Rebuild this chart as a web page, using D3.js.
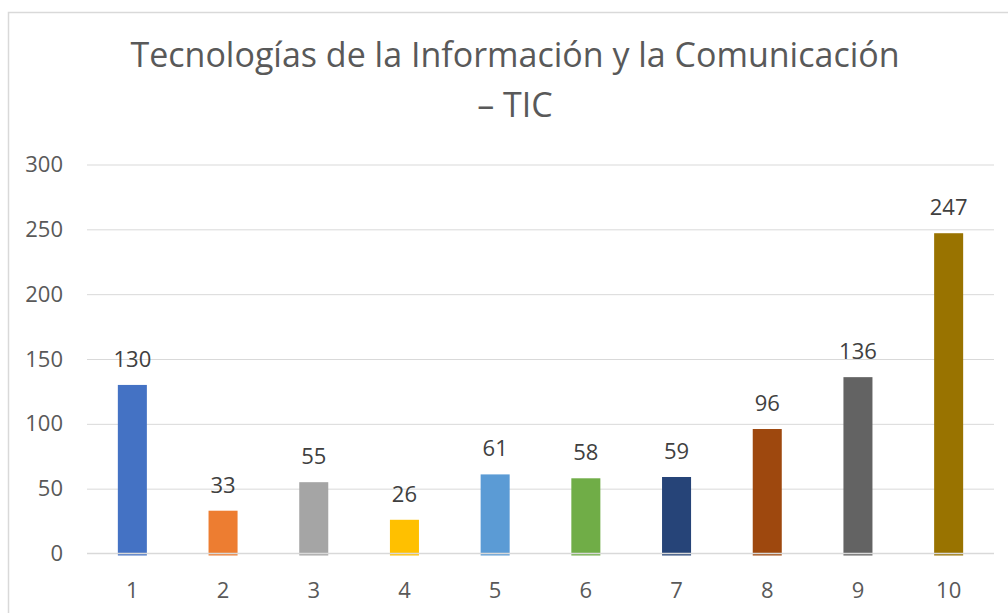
<!DOCTYPE html>
<html>
<head>
<meta charset="utf-8">
<script src="https://cdn.jsdelivr.net/npm/d3@7"></script>
<style>
  html, body { margin: 0; padding: 0; background: #fff; }
  svg { display: block; font-family: "Open Sans", sans-serif; }
</style>
</head>
<body>
<svg id="chart" width="1008" height="613"></svg>
<script>
const categories = ["1","2","3","4","5","6","7","8","9","10"];
const values = [130, 33, 55, 26, 61, 58, 59, 96, 136, 247];
const colors = ["#4472C4","#ED7D31","#A5A5A5","#FFC000","#5B9BD5","#70AD47","#264478","#9E480E","#636363","#997300"];
const yTicks = [0, 50, 100, 150, 200, 250, 300];
const titleLines = ["Tecnologías de la Información y la Comunicación", "– TIC"];

const svg = d3.select("#chart");

// chart frame
svg.append("rect")
  .attr("x", 8.5).attr("y", 12.5)
  .attr("width", 1100).attr("height", 700)
  .attr("fill", "#fff").attr("stroke", "#d9d9d9").attr("stroke-width", 1.5);

const x = d3.scaleBand().domain(categories).range([87, 994]).paddingInner(0.68).paddingOuter(0.34);
const y = d3.scaleLinear().domain([0, 300]).range([553.5, 164.5]);

// title
svg.append("g").selectAll("text").data(titleLines).join("text")
  .attr("x", 515).attr("y", (d, i) => i === 0 ? 67 : 117)
  .attr("text-anchor", "middle")
  .attr("fill", "#595959")
  .attr("font-size", 34)
  .text(d => d);

// gridlines (non-zero)
const grid = d3.axisLeft(y).tickValues(yTicks.filter(t => t !== 0)).tickSize(-(994 - 87)).tickFormat("");
svg.append("g").attr("transform", "translate(87,0)").call(grid)
  .call(g => g.select(".domain").remove())
  .call(g => g.selectAll("line").attr("stroke", "#d9d9d9").attr("stroke-width", 1));

// y labels
const yAxis = d3.axisLeft(y).tickValues(yTicks).tickSize(0).tickPadding(0);
svg.append("g").attr("transform", "translate(63,0)").call(yAxis)
  .call(g => g.select(".domain").remove())
  .call(g => g.selectAll("text").attr("fill", "#595959").attr("font-size", 22)
    .attr("font-family", "Open Sans, sans-serif"));

// bars
svg.append("g").selectAll("rect").data(values).join("rect")
  .attr("x", (d, i) => x(categories[i]))
  .attr("width", x.bandwidth())
  .attr("y", d => y(d))
  .attr("height", d => y(0) - y(d) + 2)
  .attr("fill", (d, i) => colors[i]);

// baseline
svg.append("line")
  .attr("x1", 87).attr("x2", 994).attr("y1", y(0)).attr("y2", y(0))
  .attr("stroke", "#d9d9d9").attr("stroke-width", 1.5);

// x labels
const xAxis = d3.axisBottom(x).tickSize(0).tickPadding(0);
svg.append("g").attr("transform", "translate(0,582)").call(xAxis)
  .call(g => g.select(".domain").remove())
  .call(g => g.selectAll("text").attr("fill", "#595959").attr("font-size", 22)
    .attr("font-family", "Open Sans, sans-serif").attr("dy", "0.71em"));

// data labels
svg.append("g").selectAll("text").data(values).join("text")
  .attr("x", (d, i) => x(categories[i]) + x.bandwidth() / 2)
  .attr("y", d => y(d) - 18)
  .attr("text-anchor", "middle")
  .attr("fill", "#404040")
  .attr("font-size", 22)
  .text(d => d);
</script>
</body>
</html>
